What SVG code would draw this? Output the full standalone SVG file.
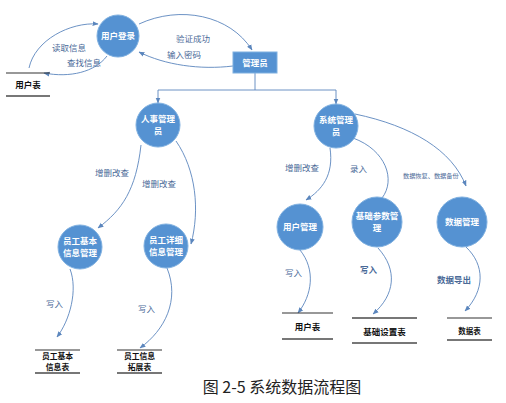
<svg xmlns="http://www.w3.org/2000/svg" width="506" height="403" viewBox="0 0 506 403">
<style>
.node{fill:#5592d2;stroke:#7fb0e0;stroke-width:1}
.nt{font-family:"Noto Sans CJK SC","Noto Sans CJK JP",sans-serif;font-size:8.5px;font-weight:bold;fill:#ffffff;text-anchor:middle}
.lbl{font-family:"Noto Sans CJK SC","Noto Sans CJK JP",sans-serif;font-size:8.5px;fill:#4a6a98}
.st{font-family:"Noto Sans CJK SC","Noto Sans CJK JP",sans-serif;font-size:8.5px;font-weight:bold;fill:#111;text-anchor:middle}
.st2{font-family:"Noto Sans CJK SC","Noto Sans CJK JP",sans-serif;font-size:7.8px;font-weight:bold;fill:#111;text-anchor:middle}
.c{fill:none;stroke:#5b86bd;stroke-width:0.9}
.top{stroke:#333;stroke-width:1.2}
.bot{stroke:#777;stroke-width:1.8}
</style>
<defs>
<marker id="a" viewBox="0 0 10 10" refX="9" refY="5" markerWidth="6" markerHeight="6" orient="auto" markerUnits="userSpaceOnUse">
<path d="M0,1 L10,5 L0,9 z" fill="#5b86bd"/>
</marker>
</defs>
<rect width="506" height="403" fill="#ffffff"/>
<g id="connectors">
<path class="c" d="M29,68 C35,40 70,22 98,24" marker-end="url(#a)"/>
<path class="c" d="M107,56 C95,72 70,78 44,73" marker-end="url(#a)"/>
<path class="c" d="M139,24 C180,5 230,15 252,50" marker-end="url(#a)"/>
<path class="c" d="M233,66 C200,70 165,65 139,52" marker-end="url(#a)"/>
<path class="c" d="M255,73 V90 M158,90 H336"/>
<path class="c" d="M158,90 V103" marker-end="url(#a)"/>
<path class="c" d="M336,90 V104" marker-end="url(#a)"/>
<path class="c" d="M141,145 C136,190 122,210 98,228" marker-end="url(#a)"/>
<path class="c" d="M176,141 C196,170 200,210 191,244" marker-end="url(#a)"/>
<path class="c" d="M70,269 C78,290 70,320 57,337" marker-end="url(#a)"/>
<path class="c" d="M167,268 C180,300 165,330 140,348" marker-end="url(#a)"/>
<path class="c" d="M330,148 C334,175 322,190 306,200" marker-end="url(#a)"/>
<path class="c" d="M353,138 C386,150 396,180 382,198"/>
<path class="c" d="M355,114 C412,126 452,150 466,186" marker-end="url(#a)"/>
<path class="c" d="M300,250 C316,270 312,295 298,313" marker-end="url(#a)"/>
<path class="c" d="M378,248 C398,270 395,295 373,314" marker-end="url(#a)"/>
<path class="c" d="M466,247 C485,265 485,290 465,311" marker-end="url(#a)"/>
<text class="lbl" x="52" y="51">读取信息</text>
<text class="lbl" x="67" y="66">查找信息</text>
<text class="lbl" x="176" y="42">验证成功</text>
<text class="lbl" x="167" y="58">输入密码</text>
<text class="lbl" x="95" y="176">增删改查</text>
<text class="lbl" x="142" y="187">增删改查</text>
<text class="lbl" x="46" y="307">写入</text>
<text class="lbl" x="138" y="312">写入</text>
<text class="lbl" x="285" y="171">增删改查</text>
<text class="lbl" x="350" y="172">录入</text>
<text class="lbl" x="403" y="178" style="font-size:6.2px">数据恢复、数据备份</text>
<text class="lbl" x="285" y="276">写入</text>
<text class="lbl" x="360" y="273" style="font-weight:bold">写入</text>
<text class="lbl" x="437" y="283" style="font-weight:bold">数据导出</text>
</g>
<g id="n-login"><circle class="node" cx="118" cy="36" r="21"/><text class="nt" x="118" y="39">用户登录</text></g>
<g id="n-admin"><rect class="node" x="233" y="52" width="44" height="21"/><text class="nt" x="255" y="66">管理员</text></g>
<g id="n-hr"><circle class="node" cx="158" cy="125" r="22"/><text class="nt" x="158" y="122">人事管理</text><text class="nt" x="158" y="134">员</text></g>
<g id="n-sys"><circle class="node" cx="336" cy="126" r="22"/><text class="nt" x="336" y="123">系统管理</text><text class="nt" x="336" y="135">员</text></g>
<g id="n-basic"><circle class="node" cx="80" cy="247" r="22"/><text class="nt" x="80" y="244">员工基本</text><text class="nt" x="80" y="256">信息管理</text></g>
<g id="n-detail"><circle class="node" cx="166" cy="246" r="22"/><text class="nt" x="166" y="243">员工详细</text><text class="nt" x="166" y="255">信息管理</text></g>
<g id="n-user"><circle class="node" cx="300" cy="227" r="23"/><text class="nt" x="300" y="230">用户管理</text></g>
<g id="n-param"><circle class="node" cx="377" cy="222" r="25"/><text class="nt" x="377" y="219">基础参数管</text><text class="nt" x="377" y="231">理</text></g>
<g id="n-data"><circle class="node" cx="462" cy="222" r="25"/><text class="nt" x="462" y="225">数据管理</text></g>
<g id="s-user1"><line class="top" x1="6" y1="73" x2="50" y2="73"/><text class="st" x="28" y="88">用户表</text><line class="bot" x1="6" y1="96" x2="50" y2="96"/></g>
<g id="s-basic"><line class="top" x1="35" y1="350" x2="80" y2="350"/><text class="st2" x="57.5" y="359">员工基本</text><text class="st2" x="57.5" y="370">信息表</text><line class="bot" x1="35" y1="373" x2="80" y2="373"/></g>
<g id="s-ext"><line class="top" x1="117" y1="350" x2="162" y2="350"/><text class="st2" x="139.5" y="359">员工信息</text><text class="st2" x="139.5" y="370">拓展表</text><line class="bot" x1="117" y1="373" x2="162" y2="373"/></g>
<g id="s-user2"><line class="top" x1="282" y1="313" x2="333" y2="313"/><text class="st" x="307.5" y="330">用户表</text><line class="bot" x1="282" y1="339" x2="333" y2="339"/></g>
<g id="s-set"><line class="bot" x1="352" y1="318" x2="417" y2="318"/><text class="st" x="384.5" y="335">基础设置表</text><line class="bot" x1="352" y1="343" x2="417" y2="343"/></g>
<g id="s-data"><line class="top" x1="447" y1="318" x2="492" y2="318"/><text class="st" x="469.5" y="334" style="font-size:7.5px">数据表</text><line class="bot" x1="447" y1="340" x2="492" y2="340"/></g>
<text x="282" y="393" text-anchor="middle" style="font-family:'Noto Sans CJK SC','Liberation Serif',serif;font-size:16px;fill:#222">图 2-5 系统数据流程图</text>
</svg>
